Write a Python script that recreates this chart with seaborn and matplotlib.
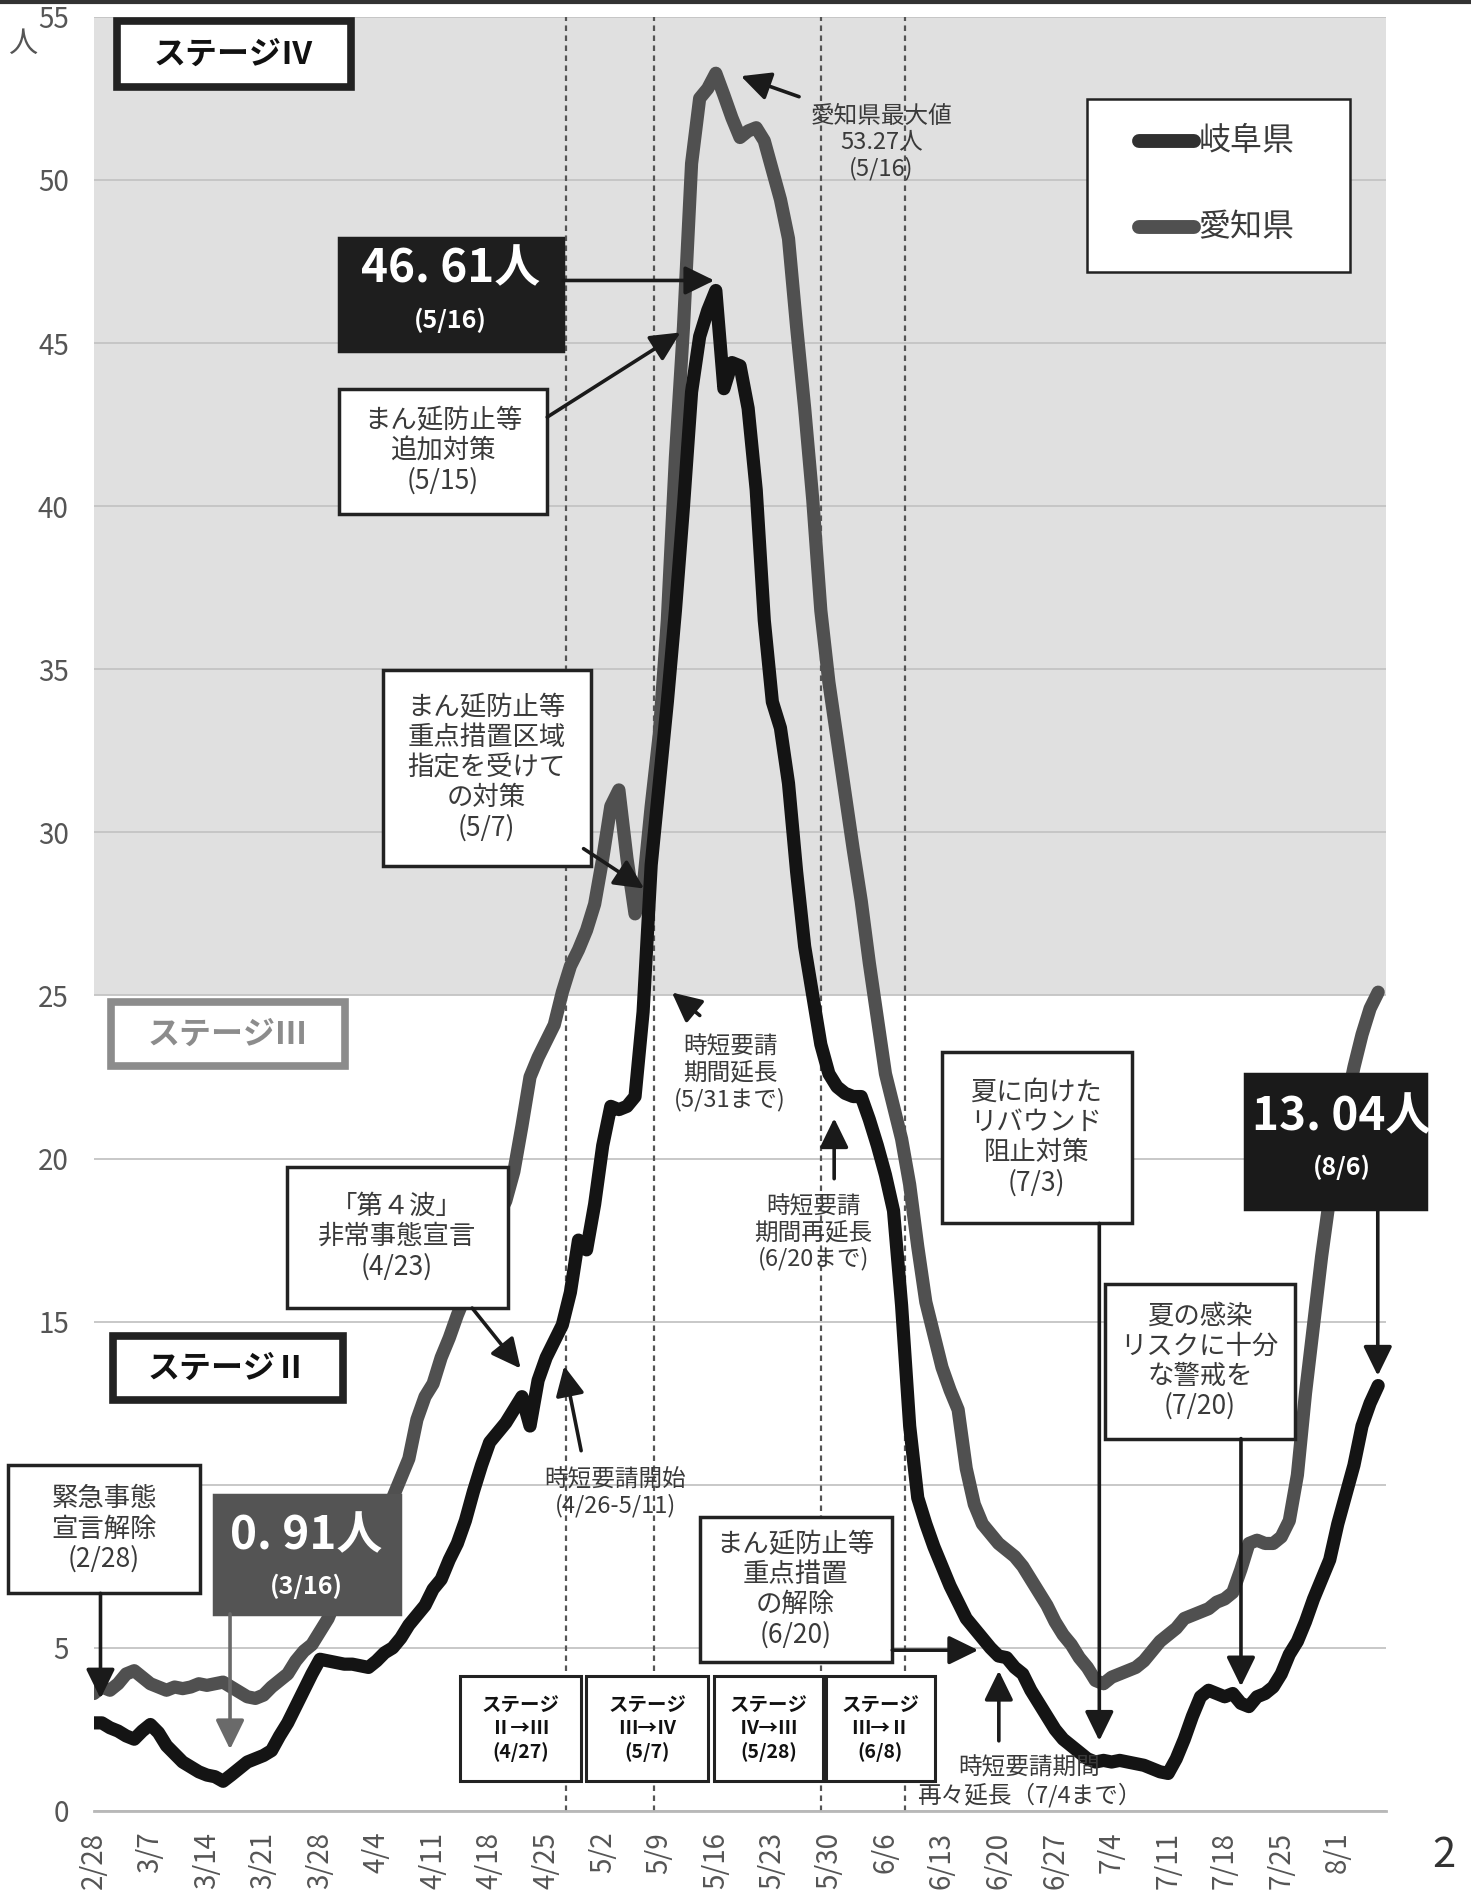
import pandas as pd
import seaborn as sns
import matplotlib.pyplot as plt
from matplotlib.patches import Rectangle, FancyArrowPatch
from matplotlib.lines import Line2D

# ── データ（7日間平均・人口10万人あたり、2/28 〜 8/6 の日次） ──────────────
DAY0 = "2/28"
GIFU = [2.7, 2.7, 2.55, 2.45, 2.3, 2.2, 2.45, 2.65, 2.4, 2.0,
        1.75, 1.5, 1.35, 1.2, 1.1, 1.05, 0.91, 1.1, 1.3, 1.5,
        1.6, 1.7, 1.85, 2.3, 2.7, 3.2, 3.7, 4.2, 4.65, 4.6,
        4.55, 4.5, 4.5, 4.45, 4.4, 4.6, 4.85, 5.0, 5.3, 5.7,
        6.0, 6.3, 6.8, 7.1, 7.7, 8.2, 8.9, 9.8, 10.6, 11.3,
        11.6, 11.9, 12.3, 12.7, 11.8, 13.2, 13.9, 14.4, 14.9, 15.9,
        17.5, 17.2, 18.6, 20.4, 21.6, 21.5, 21.6, 21.9, 24.5, 29.0,
        31.5, 34.0, 36.8, 40.0, 43.5, 45.2, 46.0, 46.61, 43.6, 44.4,
        44.3, 43.0, 40.5, 36.5, 34.0, 33.2, 31.5, 28.8, 26.5, 25.0,
        23.5, 22.6, 22.2, 22.0, 21.9, 21.9, 21.2, 20.4, 19.5, 18.4,
        15.5, 11.8, 9.6, 8.8, 8.1, 7.5, 6.9, 6.4, 5.9, 5.6,
        5.3, 5.0, 4.75, 4.7, 4.4, 4.2, 3.7, 3.3, 2.9, 2.5,
        2.2, 2.0, 1.8, 1.6, 1.5, 1.55, 1.5, 1.55, 1.5, 1.45,
        1.4, 1.3, 1.2, 1.15, 1.6, 2.2, 2.9, 3.5, 3.7, 3.6,
        3.5, 3.6, 3.3, 3.2, 3.5, 3.6, 3.8, 4.2, 4.8, 5.2,
        5.8, 6.5, 7.1, 7.7, 8.8, 9.7, 10.6, 11.8, 12.5, 13.04]

AICHI = [3.6, 3.8, 3.7, 3.9, 4.2, 4.3, 4.1, 3.9, 3.8, 3.7,
         3.8, 3.75, 3.8, 3.9, 3.85, 3.9, 3.95, 3.8, 3.65, 3.5,
         3.45, 3.55, 3.8, 4.0, 4.2, 4.6, 4.9, 5.1, 5.5, 5.9,
         6.5, 7.0, 7.5, 8.0, 8.5, 9.0, 9.3, 9.6, 10.2, 10.8,
         12.0, 12.7, 13.1, 13.9, 14.5, 15.2, 15.8, 16.6, 17.2, 17.7,
         18.2, 18.7, 19.6, 21.0, 22.5, 23.1, 23.6, 24.1, 25.1, 25.9,
         26.4, 27.0, 27.8, 29.2, 30.8, 31.3, 29.2, 27.5, 28.3, 30.8,
         33.0, 36.5, 41.5, 45.5, 50.5, 52.5, 52.8, 53.27, 52.6, 51.9,
         51.3, 51.5, 51.6, 51.2, 50.3, 49.4, 48.2, 45.5, 43.0, 40.2,
         36.8, 34.6, 32.9, 31.2, 29.5, 27.9, 26.0, 24.3, 22.6, 21.6,
         20.6, 19.2, 17.3, 15.6, 14.6, 13.6, 12.9, 12.3, 10.5, 9.4,
         8.8, 8.5, 8.2, 8.0, 7.8, 7.5, 7.1, 6.7, 6.3, 5.8,
         5.4, 5.1, 4.7, 4.4, 4.0, 3.9, 4.1, 4.2, 4.3, 4.4,
         4.6, 4.9, 5.2, 5.4, 5.6, 5.9, 6.0, 6.1, 6.2, 6.4,
         6.5, 6.7, 7.4, 8.2, 8.3, 8.2, 8.2, 8.4, 8.9, 10.3,
         12.8, 14.9, 17.0, 18.8, 20.4, 21.6, 22.8, 23.8, 24.6, 25.1]

TICK_DAYS = list(range(0, 155, 7))
TICK_LABELS = ["2/28", "3/7", "3/14", "3/21", "3/28", "4/4", "4/11", "4/18",
               "4/25", "5/2", "5/9", "5/16", "5/23", "5/30", "6/6", "6/13",
               "6/20", "6/27", "7/4", "7/11", "7/18", "7/25", "8/1"]
Y_TICKS = list(range(0, 56, 5))
# 10 の目盛ラベルは「緊急事態宣言解除」の枠に隠れている
Y_LABELS = ["" if v == 10 else str(v) for v in Y_TICKS]

# ステージ変更日（破線）: 4/27, 5/7, 5/28, 6/8 付近
STAGE_LINE_DAYS = [58.5, 69.3, 90.0, 100.4]

df = pd.concat([
    pd.DataFrame({"day": range(len(GIFU)), "value": GIFU, "pref": "岐阜県"}),
    pd.DataFrame({"day": range(len(AICHI)), "value": AICHI, "pref": "愛知県"}),
])

sns.set_style("white")
plt.rcParams["font.family"] = ["Noto Sans CJK JP", "DejaVu Sans"]

REF_W, REF_H = 1215.0, 1570.0


def P(x, y):
    # 参照画像上の位置 → figure fraction
    return (x / REF_W, 1 - y / REF_H)


fig = plt.figure(figsize=(14.71, 18.98), dpi=100)
x0, y0 = P(77.5, 1498)
x1, y1 = P(1145, 13.9)
ax = fig.add_axes([x0, y0, x1 - x0, y1 - y0])

ax.axhspan(25, 55, color="#e0e0e0", zorder=0.2, lw=0)
for d in STAGE_LINE_DAYS:
    ax.axvline(d, color="#555555", ls=(0, (2.5, 2)), lw=1.6, zorder=1.5)

sns.lineplot(data=df, x="day", y="value", hue="pref", hue_order=["愛知県", "岐阜県"],
             palette={"岐阜県": "#141414", "愛知県": "#505050"}, linewidth=9.5,
             legend=False, sort=False, ax=ax, solid_joinstyle="round",
             solid_capstyle="round", zorder=3)

ax.set_xlim(0, 160)
ax.set_ylim(0, 55)
ax.set_xticks(TICK_DAYS)
ax.set_xticklabels(TICK_LABELS, rotation=90, fontsize=20, color="#555555")
ax.set_yticks(Y_TICKS)
ax.set_yticklabels(Y_LABELS, fontsize=20, color="#555555")
ax.set_xlabel("")
ax.set_ylabel("")
ax.set_axisbelow(True)
ax.yaxis.grid(True, color="#c4c4c4", lw=1.3)
ax.xaxis.grid(False)
for s in ["top", "right", "left"]:
    ax.spines[s].set_visible(False)
ax.spines["bottom"].set_color("#b8b8b8")
ax.spines["bottom"].set_linewidth(2)
ax.tick_params(axis="x", length=9, width=1.5, color="#b8b8b8", pad=6)
ax.tick_params(axis="y", length=0, pad=18)

fig.text(*P(19, 36), "人", fontsize=21, color="#555555", ha="center", va="center")
fig.text(*P(1193, 1535), "2", fontsize=30, color="#333333", ha="center", va="center")
fig.add_artist(Line2D([0, 1], [0.999, 0.999], transform=fig.transFigure,
                      color="#333333", lw=3))

TXT = "#3a3a3a"


def box(x0, y0, x1, y1, fc="white", ec="#222222", lw=2.5):
    bx, by = P(x0, y1)
    tx, ty = P(x1, y0)
    fig.add_artist(Rectangle((bx, by), tx - bx, ty - by, transform=fig.transFigure,
                             fc=fc, ec=ec, lw=lw, zorder=5))


def label(x, y, s, size=19, color=TXT, weight="normal", ha="center", ls=1.15):
    fig.text(*P(x, y), s, fontsize=size, color=color, fontweight=weight, ha=ha,
             va="center", multialignment="center", linespacing=ls, zorder=6)


def arrow(xa, ya, xb, yb, color="#1a1a1a"):
    fig.add_artist(FancyArrowPatch(P(xa, ya), P(xb, yb), transform=fig.transFigure,
                                   arrowstyle="-|>,head_length=0.45,head_width=0.22",
                                   mutation_scale=40, lw=2.6, color=color,
                                   shrinkA=0, shrinkB=0, zorder=6))


# ステージ表示
box(97, 17, 290, 72, lw=5.5)
label(193, 45, "ステージⅣ", size=23, color="#111111", weight="bold")
box(92, 829, 285, 882, ec="#8c8c8c", lw=5.5)
label(188, 856, "ステージⅢ", size=23, color="#8c8c8c", weight="bold")
box(93, 1105, 283, 1158, lw=5.5)
label(188, 1132, "ステージⅡ", size=23, color="#111111", weight="bold")

# 凡例
box(898, 82, 1115, 225, lw=1.8)
for yy, name, col in [(117, "岐阜県", "#303030"), (188, "愛知県", "#505050")]:
    lx0, ly = P(941, yy)
    lx1, _ = P(986, yy)
    fig.add_artist(Line2D([lx0, lx1], [ly, ly], transform=fig.transFigure, color=col,
                          lw=10, solid_capstyle="round", zorder=6))
    label(990, yy, name, size=23, ha="left")

# 岐阜県ピーク
box(280, 197, 465, 290, fc="#1e1e1e", ec="#1e1e1e")
label(372, 223, "46. 61人", size=33, color="white", weight="bold")
label(372, 265, "(5/16)", size=18, color="white", weight="bold")
arrow(465, 232, 590, 232)

box(280, 322, 452, 425)
label(366, 373, "まん延防止等\n追加対策\n(5/15)")
arrow(452, 345, 562, 275)

label(728, 118, "愛知県最大値\n53.27人\n(5/16)", size=17)
arrow(660, 80, 612, 63)

box(316, 554, 488, 716)
label(402, 635, "まん延防止等\n重点措置区域\n指定を受けて\nの対策\n(5/7)")
arrow(482, 702, 532, 735)

label(603, 888, "時短要請\n期間延長\n(5/31まで)", size=17)
arrow(578, 840, 555, 821)

label(672, 1020, "時短要請\n期間再延長\n(6/20まで)", size=17)
arrow(689, 975, 689, 925)

box(778, 870, 935, 1012)
label(856, 941, "夏に向けた\nリバウンド\n阻止対策\n(7/3)")
arrow(908, 1012, 908, 1440)

box(1028, 888, 1178, 1000, fc="#1a1a1a", ec="#1a1a1a")
label(1108, 924, "13. 04人", size=33, color="white", weight="bold")
label(1108, 966, "(8/6)", size=18, color="white", weight="bold")
arrow(1138, 1000, 1138, 1138)

box(913, 1062, 1070, 1190)
label(991, 1126, "夏の感染\nリスクに十分\nな警戒を\n(7/20)")
arrow(1025, 1190, 1025, 1395)

box(237, 965, 420, 1082)
label(328, 1023, "「第４波」\n非常事態宣言\n(4/23)")
arrow(390, 1082, 430, 1132)

box(7, 1212, 165, 1318)
label(86, 1265, "緊急事態\n宣言解除\n(2/28)")
arrow(83, 1318, 83, 1405)

box(177, 1237, 330, 1335, fc="#545454", ec="#545454")
label(253, 1271, "0. 91人", size=33, color="white", weight="bold")
label(253, 1312, "(3/16)", size=18, color="white", weight="bold")
arrow(190, 1335, 190, 1447, color="#6a6a6a")

label(508, 1235, "時短要請開始\n(4/26-5/11)", size=17)
arrow(480, 1200, 466, 1130)

box(578, 1255, 737, 1375)
label(657, 1315, "まん延防止等\n重点措置\nの解除\n(6/20)")
arrow(737, 1365, 808, 1365)

label(850, 1474, "時短要請期間\n再々延長（7/4まで）", size=17)
arrow(825, 1440, 825, 1382)

# ステージ変更ボックス
for (bx0, bx1), txt in zip([(380, 480), (484, 585), (590, 680), (682, 772)],
                           ["ステージ\nⅡ→Ⅲ\n(4/27)", "ステージ\nⅢ→Ⅳ\n(5/7)",
                            "ステージ\nⅣ→Ⅲ\n(5/28)", "ステージ\nⅢ→Ⅱ\n(6/8)"]):
    box(bx0, 1386, bx1, 1473, lw=2.2)
    label((bx0 + bx1) / 2, 1430, txt, size=14, color="#111111", weight="bold", ls=1.25)

fig.savefig("out.png", dpi=100)
